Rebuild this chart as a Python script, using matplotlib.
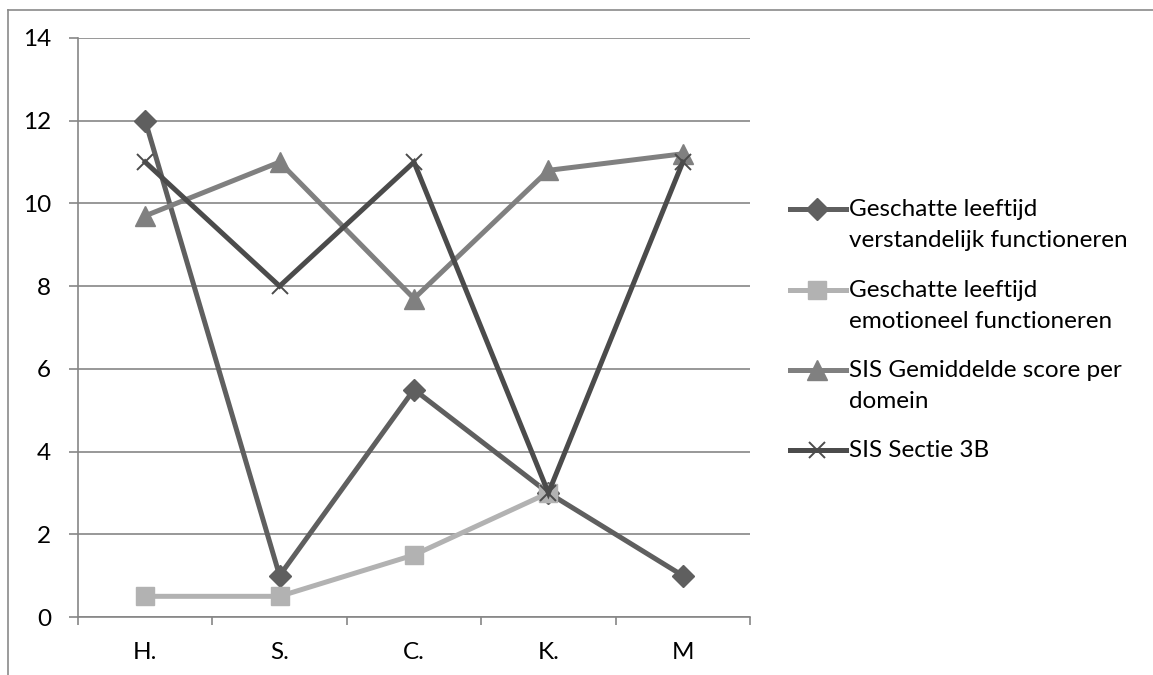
import matplotlib.pyplot as plt
import numpy as np
from matplotlib.lines import Line2D

plt.rcParams['font.family'] = ['Lato', 'DejaVu Sans']

personen = ["H.", "S.", "C.", "K.", "M"]
verstandelijk = [12, 1, 5.5, 3, 1]
emotioneel = [0.5, 0.5, 1.5, 3, np.nan]
sis_gemiddeld = [9.7, 11, 7.7, 10.8, 11.2]
sis_3b = [11, 8, 11, 3, 11]

labels = ["Geschatte leeftijd\nverstandelijk functioneren",
          "Geschatte leeftijd\nemotioneel functioneren",
          "SIS Gemiddelde score per\ndomein",
          "SIS Sectie 3B"]

stijlen = [
    dict(color="#5f5f5f", marker="D", markersize=11),
    dict(color="#b2b2b2", marker="s", markersize=13),
    dict(color="#808080", marker="^", markersize=14),
    dict(color="#4b4b4b", marker="x", markersize=11, markeredgewidth=1.4),
]

W, H = 1153, 675
fs = 17.5
fig = plt.figure(figsize=(W / 100, H / 100), dpi=100)
ax = fig.add_axes([78 / W, 1 - 617 / H, (750 - 78) / W, (617 - 38) / H])

x = np.arange(len(personen))
for reeks, st in zip([verstandelijk, emotioneel, sis_gemiddeld, sis_3b], stijlen):
    ax.plot(x, reeks, linewidth=3.6, solid_joinstyle="miter", clip_on=False, **st)

ax.set_xlim(-0.5, len(personen) - 0.5)
ax.set_ylim(0, 14)
ax.set_yticks(range(0, 15, 2))
ax.set_xticks(x)
ax.set_xticklabels(personen)
ax.set_xticks(np.arange(-0.5, len(personen), 1), minor=True)

grijs = "#868686"
ax.grid(axis="y", color=grijs, linewidth=1.2)
ax.set_axisbelow(True)
for s in ["top", "right"]:
    ax.spines[s].set_visible(False)
for s in ["left", "bottom"]:
    ax.spines[s].set_color(grijs)
    ax.spines[s].set_linewidth(1.2)

ax.tick_params(axis="y", length=6.5, width=1.2, color=grijs, pad=13, labelsize=fs)
ax.tick_params(axis="x", which="major", length=0, pad=18, labelsize=fs)
ax.tick_params(axis="x", which="minor", length=6, width=1.2, color=grijs)

# legenda rechts, handgemaakt zoals in Excel (symbool bij eerste regel)
regels_y = [209, 290, 370, 450]
for y, lab, st in zip(regels_y, labels, stijlen):
    fy = 1 - y / H
    fig.add_artist(Line2D([790 / W, 846 / W], [fy, fy], color=st["color"],
                          linewidth=3.6, transform=fig.transFigure))
    mk = {k: v for k, v in st.items() if k != "color"}
    fig.add_artist(Line2D([817 / W], [fy], color=st["color"], linestyle="none",
                          transform=fig.transFigure, **mk))
    fig.text(849 / W, 1 - (y - 10) / H, lab, fontsize=fs, va="top", ha="left",
             linespacing=1.6, transform=fig.transFigure)

# rand van het grafiekvlak
rand = "#8a8a8a"
fig.add_artist(Line2D([8 / W, 1], [1 - 10 / H, 1 - 10 / H], color=rand, linewidth=1.2))
fig.add_artist(Line2D([8 / W, 8 / W], [0, 1 - 10 / H], color=rand, linewidth=1.2))

fig.savefig("out.png", dpi=100)
